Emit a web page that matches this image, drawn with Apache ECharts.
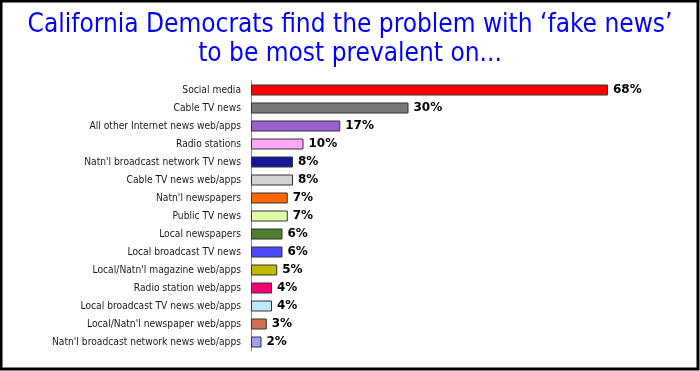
<!DOCTYPE html>
<html><head><meta charset="utf-8">
<script src="https://cdn.jsdelivr.net/npm/echarts@6/dist/echarts.min.js"></script>
<style>html,body{margin:0;padding:0;background:#fff}#c{width:700px;height:371px}</style>
</head><body><div id="c"></div>
<script>
const categories = ["Social media","Cable TV news","All other Internet news web/apps","Radio stations","Natn'l broadcast network TV news","Cable TV news web/apps","Natn'l newspapers","Public TV news","Local newspapers","Local broadcast TV news","Local/Natn'l magazine web/apps","Radio station web/apps","Local broadcast TV news web/apps","Local/Natn'l newspaper web/apps","Natn'l broadcast network news web/apps"];
const values = [68,30,17,10,8,8,7,7,6,6,5,4,4,3,2];
const colors = ["#FF0000","#777777","#9B5FCF","#FFA6F8","#16169A","#D4D4D4","#FF6600","#DFFFA6","#4F7F2F","#4A4AF8","#C2B800","#F50073","#BDE8FB","#D07252","#A0A0F6"];
const titleText = "California Democrats find the problem with \u2018fake news\u2019\nto be most prevalent on...";

const chart = echarts.init(document.getElementById('c'));
chart.setOption({
  animation:false,
  backgroundColor:'#fff',
  title:{text:titleText,left:'center',top:6,textStyle:{color:'#0000FF',fontFamily:'DejaVu Sans Condensed',fontWeight:'normal',fontSize:26,lineHeight:29}},
  grid:{left:251,right:29,top:81,bottom:20,containLabel:false},
  xAxis:{type:'value',min:0,max:80,show:false},
  yAxis:{type:'category',inverse:true,data:categories,
    axisLine:{show:true,lineStyle:{color:'#888',width:1}},
    axisTick:{show:false},
    axisLabel:{margin:10,color:'#1a1a1a',fontFamily:'DejaVu Sans Condensed',fontSize:10.2}},
  series:[{type:'bar',barWidth:11,
    data:values.map((v,i)=>({value:v,itemStyle:{color:colors[i]}})),
    itemStyle:{borderColor:'#333',borderWidth:1},
    label:{show:true,position:'right',distance:5,formatter:'{c}%',color:'#000',fontFamily:'DejaVu Sans',fontWeight:'bold',fontSize:12}}],
  graphic:[{type:'rect',shape:{x:1,y:1,width:697,height:368},style:{fill:'none',stroke:'#000',lineWidth:3},z:100}]
});
</script></body></html>
